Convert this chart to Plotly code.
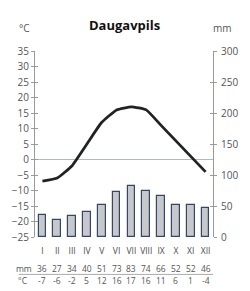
import plotly.graph_objects as go

months = ["I", "II", "III", "IV", "V", "VI", "VII", "VIII", "IX", "X", "XI", "XII"]
precip_mm = [36, 27, 34, 40, 51, 73, 83, 74, 66, 52, 52, 46]
temp_c = [-7, -6, -2, 5, 12, 16, 17, 16, 11, 6, 1, -4]
temp_ticks = list(range(-25, 40, 5))
mm_ticks = list(range(0, 350, 50))

x = list(range(1, 13))
FONT = "Open Sans"
TXT = "#555555"
AX = "#9a9a9a"

fig = go.Figure()
fig.add_trace(go.Bar(x=x, y=precip_mm, yaxis="y2", width=0.52,
                     marker=dict(color="#c6c8cc", line=dict(color="#34476a", width=1.2)),
                     hoverinfo="skip"))
fig.add_trace(go.Scatter(x=x, y=temp_c, yaxis="y", mode="lines",
                         line=dict(color="#222222", width=2.8, shape="spline", smoothing=0.4),
                         hoverinfo="skip"))

fig.update_layout(
    width=250, height=291,
    margin=dict(l=31, r=34, t=51, b=53.5),
    paper_bgcolor="white", plot_bgcolor="white",
    showlegend=False,
    font=dict(family=FONT, size=10, color=TXT),
    bargap=0,
    xaxis=dict(range=[0.5, 12.5], tickmode="array", tickvals=x, ticktext=months,
               showline=False, showgrid=False, zeroline=False, ticks="",
               tickfont=dict(size=8.5, color="#4a4a4a"), ticklabelstandoff=7),
    yaxis=dict(range=[-25, 35], tickmode="array", tickvals=temp_ticks,
               showline=True, linecolor=AX, linewidth=1, ticks="outside",
               ticklen=3, tickcolor=AX, showgrid=False, zeroline=True,
               zerolinecolor="#a9bcc6", zerolinewidth=1, tickfont=dict(size=10, color=TXT)),
    yaxis2=dict(range=[0, 300], tickmode="array", tickvals=mm_ticks, overlaying="y",
                side="right", showline=True, linecolor=AX, linewidth=1, ticks="outside",
                ticklen=3, tickcolor=AX, showgrid=False, zeroline=False,
                tickfont=dict(size=10, color=TXT), ticklabelstandoff=2),
    yaxis3=dict(range=[-25, 35], tickmode="array", tickvals=temp_ticks, overlaying="y",
                side="left", showticklabels=False, ticks="inside", ticklen=3,
                tickcolor=AX, showgrid=False, zeroline=False, showline=False),
    yaxis4=dict(range=[0, 300], tickmode="array", tickvals=mm_ticks, overlaying="y",
                side="right", showticklabels=False, ticks="inside", ticklen=3,
                tickcolor=AX, showgrid=False, zeroline=False, showline=False),
)

fig.add_trace(go.Scatter(x=[None], y=[None], yaxis="y3", hoverinfo="skip"))
fig.add_trace(go.Scatter(x=[None], y=[None], yaxis="y4", hoverinfo="skip"))

def py(pix):
    return (237.5 - pix) / 186.5

anns = []
anns.append(dict(text="<b>Daugavpils</b>", x=0.5, xref="paper", xanchor="center",
                 y=py(25), yref="paper", yanchor="middle", showarrow=False,
                 font=dict(size=13, color="#111111", family=FONT)))
anns.append(dict(text="°C", x=(20 - 31) / 185, xref="paper", xanchor="center",
                 y=py(28), yref="paper", yanchor="middle", showarrow=False,
                 font=dict(size=10, color=TXT)))
anns.append(dict(text="mm", x=(226 - 31) / 185, xref="paper", xanchor="center",
                 y=py(28), yref="paper", yanchor="middle", showarrow=False,
                 font=dict(size=10, color=TXT)))
anns.append(dict(text="mm", x=(20 - 31) / 185, xref="paper", xanchor="center",
                 y=py(269), yref="paper", yanchor="middle", showarrow=False,
                 font=dict(size=8.5, color=TXT)))
anns.append(dict(text="°C", x=(19 - 31) / 185, xref="paper", xanchor="center",
                 y=py(281), yref="paper", yanchor="middle", showarrow=False,
                 font=dict(size=8.5, color=TXT)))
for xi, m, t in zip(x, precip_mm, temp_c):
    anns.append(dict(text=str(m), x=xi, xref="x", xanchor="center",
                     y=py(269), yref="paper", yanchor="middle", showarrow=False,
                     font=dict(size=8.5, color=TXT)))
    anns.append(dict(text=str(t), x=xi, xref="x", xanchor="center",
                     y=py(281), yref="paper", yanchor="middle", showarrow=False,
                     font=dict(size=8.5, color=TXT)))
fig.update_layout(annotations=anns)

fig.add_shape(type="line", xref="paper", yref="paper",
              x0=(14 - 31) / 185, x1=1.0, y0=py(275), y1=py(275),
              line=dict(color="#aaaaaa", width=1))

fig.write_html("out.html")
